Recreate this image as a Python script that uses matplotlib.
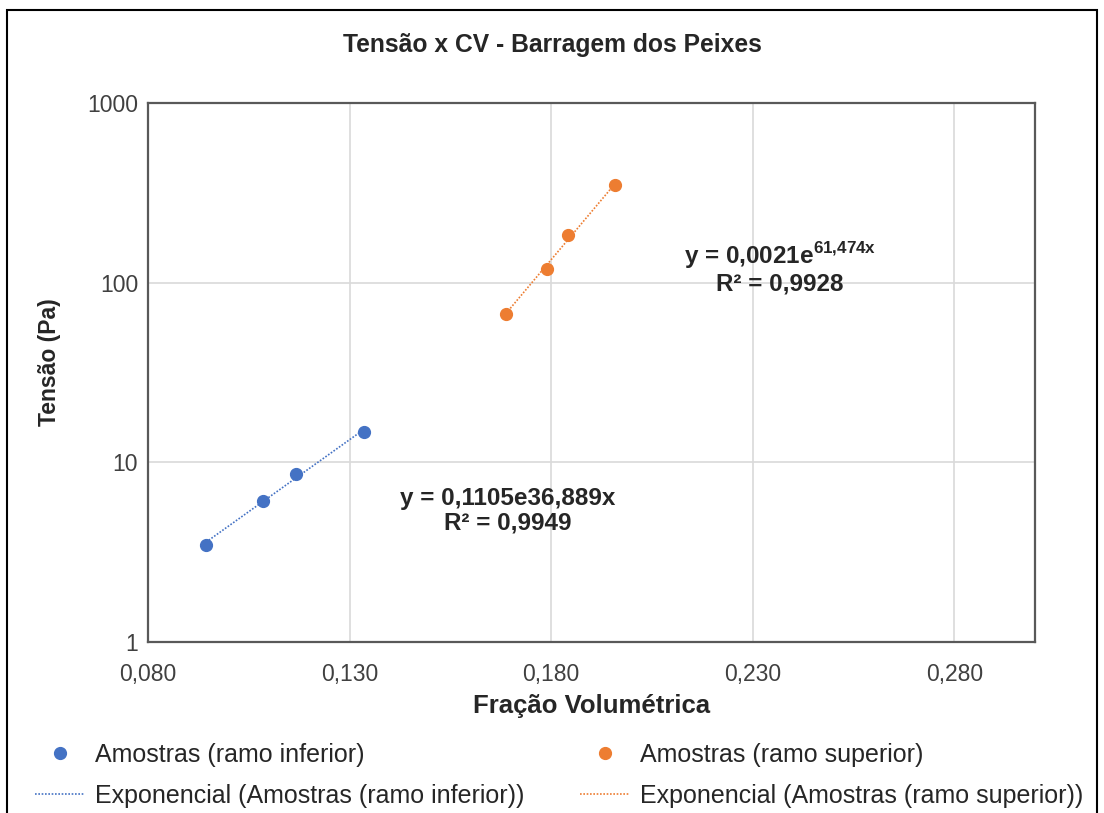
import numpy as np
import matplotlib
matplotlib.use("Agg")
import matplotlib.pyplot as plt
from matplotlib.patches import Rectangle
from matplotlib.ticker import FixedLocator, FuncFormatter

plt.rcParams['font.family'] = ['Liberation Sans', 'DejaVu Sans']
plt.rcParams['mathtext.fontset'] = 'custom'
plt.rcParams['mathtext.rm'] = 'Liberation Sans'
plt.rcParams['mathtext.bf'] = 'Liberation Sans:bold'

# Data
x_inf = [0.0944, 0.1086, 0.1168, 0.1337]
y_inf = [3.46, 6.07, 8.58, 14.7]
x_sup = [0.1688, 0.1790, 0.1842, 0.1959]
y_sup = [67.3, 119.6, 184.8, 350.0]

# Trendline coefficients (y = a * exp(b x)) as reported on the chart
a_inf, b_inf = 0.1105, 36.889
a_sup, b_sup = 0.0021, 61.474

x_ticks = [0.080, 0.130, 0.180, 0.230, 0.280]
y_ticks = [1, 10, 100, 1000]

blue = '#4472C4'
orange = '#ED7D31'
txt = '#262626'

fig = plt.figure(figsize=(11.04, 8.13), dpi=100)
ax = fig.add_axes([0.134, 0.2103, 0.8035, 0.663])

ax.set_yscale('log')
ax.set_xlim(0.08, 0.30)
ax.set_ylim(1, 1000)

xi = np.linspace(min(x_inf), max(x_inf), 50)
xs = np.linspace(min(x_sup), max(x_sup), 50)

h1, = ax.plot(x_inf, y_inf, 'o', color=blue, markersize=8.5, zorder=4)
h2, = ax.plot(xi, a_inf * np.exp(b_inf * xi), linestyle=(0, (1, 1)), color=blue, lw=1.2, zorder=3)
h3, = ax.plot(x_sup, y_sup, 'o', color=orange, markersize=8.5, zorder=4)
h4, = ax.plot(xs, a_sup * np.exp(b_sup * xs), linestyle=(0, (1, 1)), color=orange, lw=1.2, zorder=3)

ax.xaxis.set_major_locator(FixedLocator(x_ticks))
ax.xaxis.set_major_formatter(FuncFormatter(lambda v, p: f"{v:.3f}".replace('.', ',')))
ax.yaxis.set_major_locator(FixedLocator(y_ticks))
ax.yaxis.set_minor_locator(FixedLocator([]))
ax.yaxis.set_major_formatter(FuncFormatter(lambda v, p: f"{int(round(v))}"))

ax.grid(True, which='major', color='#d9d9d9', lw=1.2)
ax.set_axisbelow(True)
ax.tick_params(axis='both', which='both', length=0, labelsize=16.5, colors='#404040')
ax.tick_params(axis='x', pad=15)
ax.tick_params(axis='y', pad=7)
for s in ax.spines.values():
    s.set_color('#595959')
    s.set_linewidth(1.6)

ax.set_xlabel('Fração Volumétrica', fontsize=18.5, fontweight='bold', color=txt)
ax.xaxis.set_label_coords(0.5006, -0.097)
ax.set_ylabel('Tensão (Pa)', fontsize=16.5, fontweight='bold', color=txt)
ax.yaxis.set_label_coords(-0.098, 0.52)

fig.text(0.5, 0.945, 'Tensão x CV - Barragem dos Peixes', ha='center', va='center',
         fontsize=17.7, fontweight='bold', color=txt)

ax.text(0.1693, 6.31, 'y = 0,1105e36,889x', ha='center', va='center',
        fontsize=17.5, fontweight='bold', color=txt)
ax.text(0.1693, 4.58, 'R² = 0,9949', ha='center', va='center',
        fontsize=17.5, fontweight='bold', color=txt)
ax.text(0.2367, 141, r'y = 0,0021e$^{\mathbf{61{,}474x}}$', ha='center', va='center',
        fontsize=17.5, fontweight='bold', color=txt)
ax.text(0.2367, 98.7, 'R² = 0,9928', ha='center', va='center',
        fontsize=17.5, fontweight='bold', color=txt)

leg_kw = dict(frameon=False, fontsize=18.0, handlelength=2.0, labelspacing=0.68,
              handletextpad=0.43, borderpad=0, labelcolor='#262626', loc='center left')
fig.legend([h1, h2], ['Amostras (ramo inferior)', 'Exponencial (Amostras (ramo inferior))'],
           bbox_to_anchor=(22 / 1104, 0.0467), **leg_kw)
fig.legend([h3, h4], ['Amostras (ramo superior)', 'Exponencial (Amostras (ramo superior))'],
           bbox_to_anchor=(567 / 1104, 0.0467), **leg_kw)

fig.patches.append(Rectangle((0.006, -0.01), 0.988, 0.998, transform=fig.transFigure,
                             fill=False, edgecolor='#000000', lw=1.5))

fig.savefig('out.png', dpi=100)
